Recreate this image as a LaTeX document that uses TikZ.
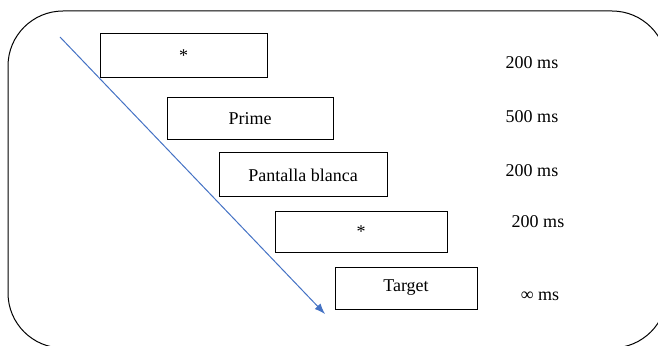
\documentclass[tikz,border=0pt]{standalone}
\usepackage{fontspec}
\setmainfont{Liberation Serif}
\usepackage{tikz}
\usetikzlibrary{arrows.meta}

\begin{document}
\begin{tikzpicture}[x=0.75pt,y=-0.75pt,>={Latex[length=8pt,width=6pt]},
					font=\fontsize{13.5}{16}\selectfont,
					main node/.style={rectangle,draw,line width=0.75pt,inner sep=0pt,minimum height=33pt},
					time/.style={inner sep=0pt}];
					
					\useasboundingbox (0,0) rectangle (658,346);
					\clip (0,0) rectangle (658,346);
					\draw[line width=0.75pt,rounded corners=41.25pt] (8,11) rectangle (667,348);
					
					\node[main node,minimum width=125.25pt] (1) at (183.5,56) {*};
					\node[main node,minimum width=124.5pt,minimum height=31.5pt] (2) at (250,119) {Prime};
					\node[main node,minimum width=126pt] (3) at (303,175) {Pantalla blanca};
					\node[main node,minimum width=129pt,minimum height=30pt] (4) at (361,232) {*};
					\node[main node,minimum width=106.5pt,minimum height=31.5pt] (5) at (406,288) {Target};
					
					\node[time] (t1) at (532,63) {200 ms};
					\node[time] (t2) at (532,117) {500 ms};
					\node[time] (t3) at (532,171) {200 ms};
					\node[time] (t4) at (538,222) {200 ms};
					\node[time] (t5) at (540,296) {∞ ms};
					
					\coordinate (a) at (60,37);
					\coordinate (b) at (325,314);
					\draw[->,color={rgb,255:red,68;green,114;blue,196},line width=0.75pt] (a) -- (b);
					
					\end{tikzpicture}
\end{document}
